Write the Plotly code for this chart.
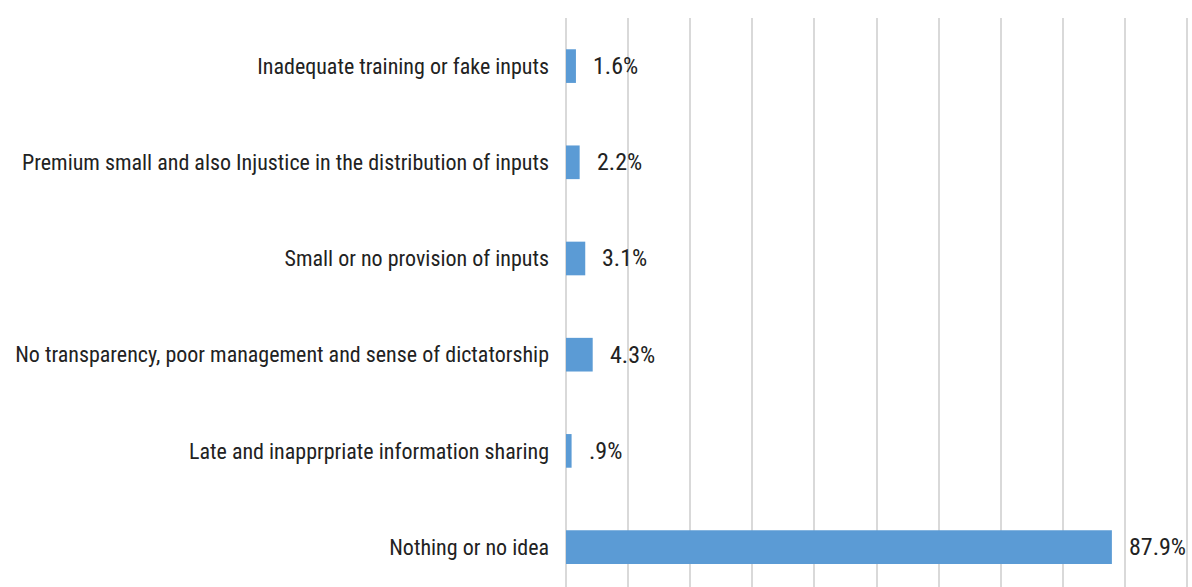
import plotly.graph_objects as go

categories = [
    "Inadequate training or fake inputs",
    "Premium small and also Injustice in the distribution of inputs",
    "Small or no provision of inputs",
    "No transparency, poor management and sense of dictatorship",
    "Late and inapprpriate information sharing",
    "Nothing or no idea",
]
values = [1.6, 2.2, 3.1, 4.3, 0.9, 87.9]
value_labels = ["1.6%", "2.2%", "3.1%", "4.3%", ".9%", "87.9%"]
grid_ticks = [0, 10, 20, 30, 40, 50, 60, 70, 80, 90, 100]

FONT = "Liberation Sans Narrow, Roboto Condensed, Arial Narrow, Liberation Sans, sans-serif"

fig = go.Figure(
    go.Bar(
        x=values,
        y=categories,
        orientation="h",
        marker=dict(color="#5B9BD5", line=dict(width=0)),
        hoverinfo="skip",
    )
)

for c, v, t in zip(categories, values, value_labels):
    fig.add_annotation(
        x=v, y=c, text=t, showarrow=False, xanchor="left", yanchor="middle",
        xshift=15, font=dict(family=FONT, size=24, color="#222222"),
    )

fig.update_layout(
    width=1192,
    height=587,
    margin=dict(l=566, r=0, t=18, b=0, pad=0),
    paper_bgcolor="white",
    plot_bgcolor="white",
    bargap=0.65,
    showlegend=False,
    font=dict(family=FONT, size=22, color="#222222"),
)
fig.update_xaxes(
    range=[0, 100.8],
    tickmode="array",
    tickvals=grid_ticks,
    showgrid=True,
    gridcolor="#D9D9D9",
    gridwidth=2,
    zeroline=True,
    zerolinecolor="#D9D9D9",
    zerolinewidth=2,
    showline=False,
    showticklabels=False,
    ticks="",
)
fig.update_yaxes(
    type="category",
    categoryorder="array",
    categoryarray=list(reversed(categories)),
    range=[-0.415, 5.5],
    showgrid=False,
    zeroline=False,
    showline=False,
    ticks="",
    ticklabelstandoff=16,
    tickfont=dict(family=FONT, size=22, color="#222222"),
)

# remove the default page margin so the figure fills the window exactly
fig.write_html(
    "out.html",
    config={"displayModeBar": False},
    post_script="document.body.style.margin='0';document.body.style.overflow='hidden';",
)
